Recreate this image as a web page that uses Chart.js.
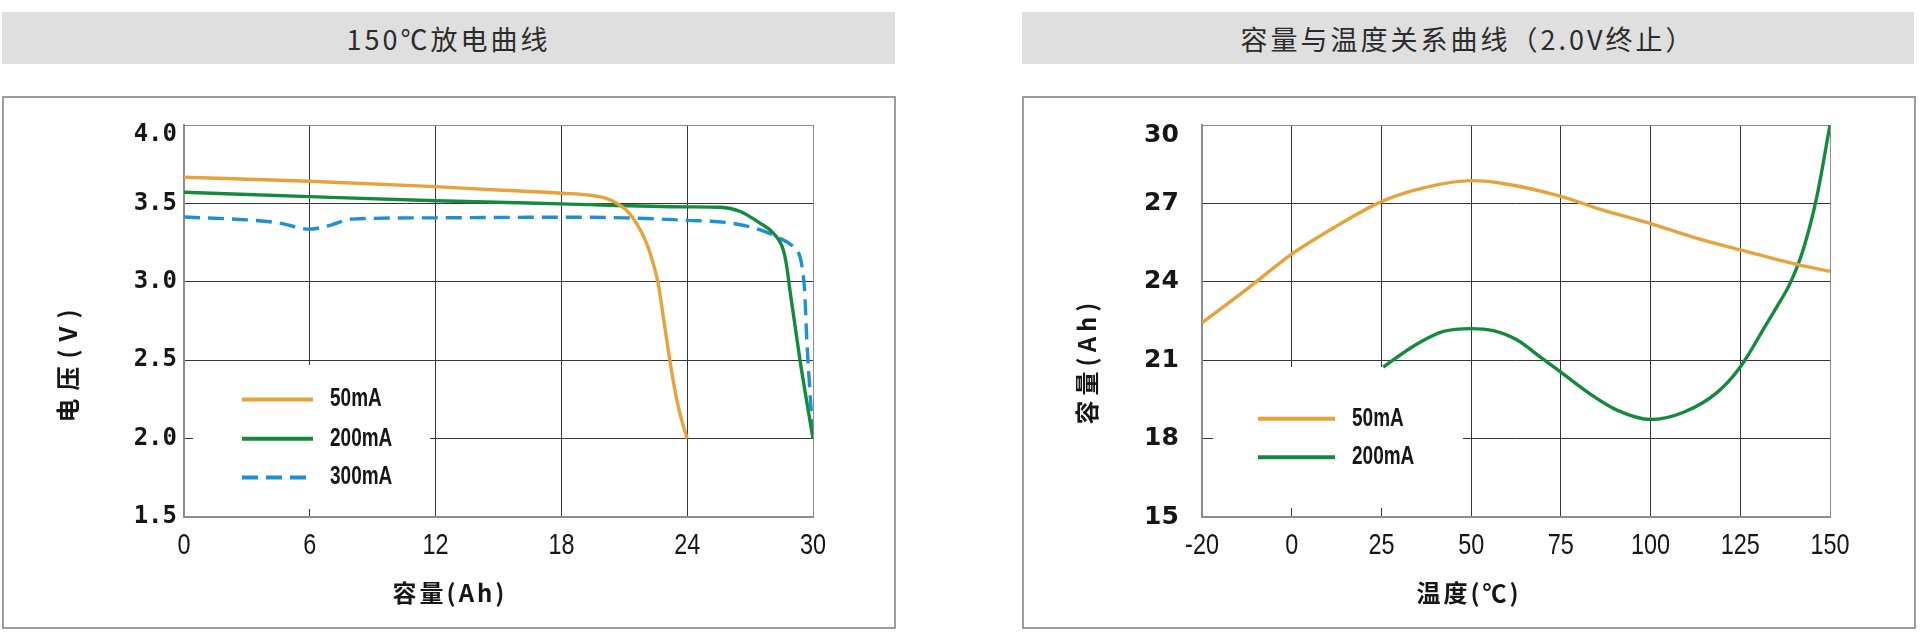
<!DOCTYPE html>
<html>
<head>
<meta charset="utf-8">
<script src="https://cdn.jsdelivr.net/npm/chart.js@4.4.1/dist/chart.umd.min.js"></script>
<style>
  html, body { margin: 0; padding: 0; background: #fff; }
  body { width: 1920px; height: 634px; position: relative; overflow: hidden;
         font-family: "Noto Sans CJK SC", sans-serif; }
  .bar { position: absolute; top: 12px; height: 52px; background: #dfdfdf; color: #2b2b2b;
         font-size: 27px; font-weight: 400; letter-spacing: 3px;
         display: flex; align-items: center; justify-content: center; }
  .box { position: absolute; top: 96px; height: 533px; border: 2px solid #9c9c9c; box-sizing: border-box; }
  .cv { position: absolute; top: 98px; width: 890px; height: 529px; }
</style>
</head>
<body>
<div class="bar" style="left:2px;width:893px">150℃放电曲线</div>
<div class="bar" style="left:1022px;width:892px">容量与温度关系曲线（2.0V终止）</div>
<div class="box" style="left:2px;width:894px"></div>
<div class="box" style="left:1022px;width:894px"></div>
<div class="cv" style="left:4px"><canvas id="discharge"></canvas></div>
<div class="cv" style="left:1024px"><canvas id="tempcap"></canvas></div>

<script>
// ---- 150℃ discharge curves: capacity (Ah) vs voltage (V) ----
const cap50   = [0, 6, 12, 15, 18, 19.4, 20.1, 20.65, 21.1, 21.6, 22.05, 22.35, 22.6, 22.9, 23.17, 23.5, 23.77, 24];
const volt50  = [3.667, 3.641, 3.607, 3.585, 3.565, 3.552, 3.533, 3.50, 3.457, 3.37, 3.25, 3.13, 3.0, 2.74, 2.5, 2.25, 2.1, 2.0];
const cap200  = [0, 6, 12, 18, 24, 25.6, 26.5, 27.45, 28.1, 28.58, 28.75, 28.9, 29.38, 30];
const volt200 = [3.571, 3.543, 3.517, 3.497, 3.478, 3.475, 3.45, 3.376, 3.311, 3.204, 3.096, 2.946, 2.5, 2.0];
const cap300  = [0, 3, 4.5, 6, 7, 8, 12, 18, 21, 24, 26, 27.45, 28.4, 29.05, 29.38, 29.5, 29.6, 29.7, 29.85, 30];
const volt300 = [3.413, 3.395, 3.376, 3.336, 3.362, 3.40, 3.408, 3.412, 3.408, 3.392, 3.376, 3.333, 3.279, 3.225, 3.16, 3.075, 2.946, 2.64, 2.31, 2.0];

// ---- capacity vs temperature (2.0V cut-off) ----
const tempTicks = [-20, 0, 25, 50, 75, 100, 125, 150];
const temp50  = [-20, -10, 0, 11.6, 25, 37.6, 50, 58, 75, 85.8, 100, 112.7, 125, 140.7, 150];
const capT50  = [22.43, 23.72, 25.06, 26.06, 27.07, 27.62, 27.87, 27.78, 27.27, 26.78, 26.23, 25.67, 25.22, 24.67, 24.40];
const temp200 = [25.5, 34.8, 42.3, 50, 56.2, 62.7, 69.2, 75, 83.2, 90.6, 100, 109.2, 118.5, 125, 132.2, 135.3, 138.8, 142.5, 146.2, 150];
const capT200 = [20.74, 21.61, 22.10, 22.21, 22.13, 21.78, 21.13, 20.54, 19.70, 19.09, 18.73, 19.01, 19.76, 20.74, 22.36, 23.07, 23.92, 25.22, 27.17, 30.0];

const ORANGE = '#e9a23b', GREEN = '#148a3e', BLUE = '#1e90d6';
const EDGE = '#8c8c8c', GRID = '#363636', TEXT = '#161616';
const SANS = '"Liberation Sans", Arial, sans-serif';
const CJK = '"Noto Sans CJK SC", sans-serif';

// the temperature axis has evenly spaced ticks, so map a temperature onto tick index space
function tempPos(t) {
  for (let i = 0; i < tempTicks.length - 1; i++) {
    if (t <= tempTicks[i + 1]) return i + (t - tempTicks[i]) / (tempTicks[i + 1] - tempTicks[i]);
  }
  return tempTicks.length - 1;
}
const pts = (xs, ys, fx) => xs.map((x, i) => ({ x: fx ? fx(x) : x, y: ys[i] }));

// text squeezed horizontally, for the narrow face used on the capacity / temperature labels
function narrowText(ctx, text, x, y, sx, align) {
  ctx.save();
  ctx.translate(x, y);
  ctx.scale(sx, 1);
  ctx.textAlign = align;
  ctx.textBaseline = 'middle';
  ctx.fillText(text, 0, 0);
  ctx.restore();
}

// x tick labels, axis titles and an in-plot legend on a white panel
const decorPlugin = {
  id: 'decor',
  beforeDatasetsDraw(chart, args, o) {
    const ctx = chart.ctx;
    ctx.save();
    ctx.fillStyle = '#fff';
    ctx.fillRect(o.box[0], o.box[1], o.box[2] - o.box[0], o.box[3] - o.box[1]);
    chart.data.datasets.forEach((ds, i) => {
      const y = o.rows[i];
      ctx.strokeStyle = ds.borderColor;
      ctx.lineWidth = 4;
      ctx.setLineDash(ds.borderDash || []);
      ctx.beginPath();
      ctx.moveTo(o.line[0], y);
      ctx.lineTo(o.line[1], y);
      ctx.stroke();
      ctx.setLineDash([]);
      ctx.fillStyle = TEXT;
      ctx.font = 'bold 25px ' + SANS;
      narrowText(ctx, ds.label, o.textX, y, 0.76, 'left');
    });
    ctx.restore();
  },
  afterDraw(chart, args, o) {
    const ctx = chart.ctx;
    const xs = chart.scales.x;
    ctx.save();
    ctx.fillStyle = TEXT;
    ctx.font = '30px ' + SANS;
    xs.ticks.forEach(t => {
      narrowText(ctx, o.xLabel(t.value), xs.getPixelForValue(t.value), chart.chartArea.bottom + 29, 0.78, 'center');
    });
    ctx.font = 'bold 24px ' + CJK;
    ctx.textAlign = 'center';
    ctx.textBaseline = 'middle';
    ctx.letterSpacing = '3px';
    ctx.fillText(o.xTitle, o.xTitlePos[0], o.xTitlePos[1]);
    ctx.letterSpacing = o.yTitleSpacing;
    ctx.translate(o.yTitlePos[0], o.yTitlePos[1]);
    ctx.rotate(-Math.PI / 2);
    ctx.fillText(o.yTitle, 0, 0);
    ctx.restore();
  }
};

function gridColor(ctx) {
  const s = ctx.scale;
  return (ctx.tick && (ctx.tick.value === s.max || ctx.tick.value === s.min)) ? EDGE : GRID;
}

function baseOptions(cfg) {
  return {
    responsive: true,
    maintainAspectRatio: false,
    animation: false,
    devicePixelRatio: 1,
    layout: { padding: { top: 27, right: cfg.padRight, left: cfg.padLeft, bottom: 0 } },
    elements: { point: { radius: 0 }, line: { borderWidth: 3.4, cubicInterpolationMode: 'monotone' } },
    plugins: { legend: { display: false }, tooltip: { enabled: false }, decor: cfg.decor },
    scales: {
      x: {
        type: 'linear', min: cfg.xMin, max: cfg.xMax,
        afterFit(s) { s.height = 110; },
        grid: { color: gridColor, lineWidth: 1, drawTicks: false },
        border: { color: EDGE, width: 2 },
        ticks: { stepSize: cfg.xStep, display: false }
      },
      y: {
        min: cfg.yMin, max: cfg.yMax,
        afterFit(s) { s.width = cfg.yWidth; },
        grid: { color: gridColor, lineWidth: 1, drawTicks: false },
        border: { color: EDGE, width: 2 },
        ticks: { stepSize: cfg.yStep, padding: cfg.yPad, crossAlign: cfg.yAlign, color: TEXT, callback: cfg.yLabel,
                 font: { family: cfg.yFont, size: cfg.ySize, weight: 'bold', lineHeight: 0.8 } }
      }
    }
  };
}

new Chart(document.getElementById('discharge'), {
  type: 'line',
  data: {
    datasets: [
      { label: '50mA',  data: pts(cap50, volt50),   borderColor: ORANGE },
      { label: '200mA', data: pts(cap200, volt200), borderColor: GREEN },
      { label: '300mA', data: pts(cap300, volt300), borderColor: BLUE, borderDash: [16, 8] }
    ]
  },
  options: baseOptions({
    padRight: 81, padLeft: 0, yWidth: 180, yPad: 7, yAlign: 'near', ySize: 24,
    xMin: 0, xMax: 30, xStep: 6,
    yMin: 1.5, yMax: 4.0, yStep: 0.5, yFont: '"DejaVu Sans Mono", monospace',
    yLabel: v => (v === 4 ? ['', v.toFixed(1)] : v.toFixed(1)),
    decor: {
      xLabel: v => String(v),
      box: [189, 267, 426, 411], line: [238, 309], rows: [301.5, 340.8, 379.4], textX: 326,
      xTitle: '容量(Ah)', xTitlePos: [446, 495],
      yTitle: '电压(V)', yTitlePos: [64, 264], yTitleSpacing: '8px'
    }
  }),
  plugins: [decorPlugin]
});

new Chart(document.getElementById('tempcap'), {
  type: 'line',
  data: {
    datasets: [
      { label: '50mA',  data: pts(temp50, capT50, tempPos),   borderColor: ORANGE },
      { label: '200mA', data: pts(temp200, capT200, tempPos), borderColor: GREEN }
    ]
  },
  options: baseOptions({
    padRight: 84, padLeft: 120, yWidth: 58, yPad: 0, yAlign: 'far', ySize: 25,
    xMin: 0, xMax: tempTicks.length - 1, xStep: 1,
    yMin: 15, yMax: 30, yStep: 3, yFont: '"DejaVu Sans", sans-serif',
    yLabel: v => (v === 30 ? ['', String(v)] : String(v)),
    decor: {
      xLabel: v => String(tempTicks[v]),
      box: [189, 269, 439, 410], line: [234, 311], rows: [320.8, 359.2], textX: 328,
      xTitle: '温度(℃)', xTitlePos: [445, 495],
      yTitle: '容量(Ah)', yTitlePos: [63, 263], yTitleSpacing: '5px'
    }
  }),
  plugins: [decorPlugin]
});
</script>
</body>
</html>
